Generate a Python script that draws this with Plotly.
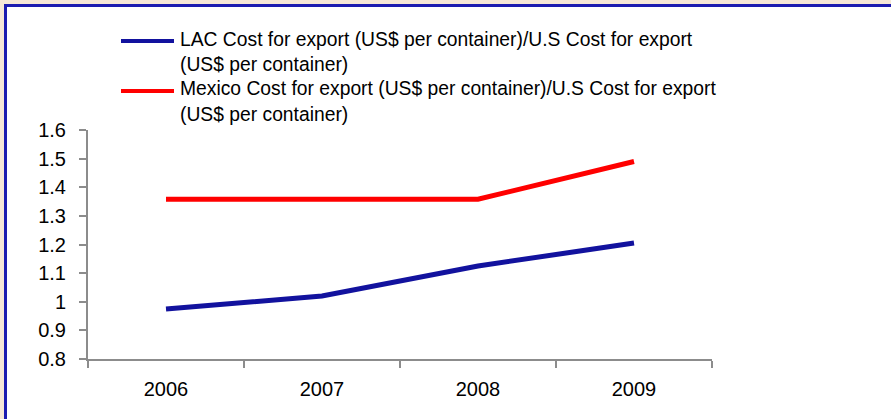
import plotly.graph_objects as go

# Export cost ratios relative to the U.S.
years = ["2006", "2007", "2008", "2009"]
lac_ratio = [0.975, 1.02, 1.125, 1.205]
mexico_ratio = [1.358, 1.358, 1.358, 1.49]
series_names = [
    "LAC Cost for export (US$ per container)/U.S Cost for export<br>(US$ per container)",
    "Mexico Cost for export (US$ per container)/U.S Cost for export<br>(US$ per container)",
]
series_colors = ["#12129e", "#ff0000"]
y_ticks = [0.8, 0.9, 1.0, 1.1, 1.2, 1.3, 1.4, 1.5, 1.6]

W, H = 891, 419
ML, MR, MT, MB = 88, 179, 130, 60
PW, PH = W - ML - MR, H - MT - MB


def px_x(p):
    return (p - ML) / PW


def px_y(p):
    return 1 - (p - MT) / PH


family = "Liberation Sans, Arial, sans-serif"
tick_font = dict(family=family, size=20, color="#000000")
legend_font = dict(family=family, size=19.3, color="#000000")
axis_grey = "#8c8c8c"

fig = go.Figure()
for vals, name, color in zip([lac_ratio, mexico_ratio], series_names, series_colors):
    fig.add_trace(go.Scatter(x=years, y=vals, mode="lines", name=name,
                             line=dict(color=color, width=5), showlegend=False))

# white frame with a blue border on the beige page
fig.add_shape(type="rect", xref="paper", yref="paper",
              x0=px_x(5.5), y0=px_y(440), x1=px_x(905), y1=px_y(5.5),
              fillcolor="#ffffff", line=dict(color="#1c1cb0", width=3), layer="below")

# legend: a line sample per series followed by its (wrapped) label
entry_top = [41, 91]
line_gap = 26
for top, name, color in zip(entry_top, series_names, series_colors):
    fig.add_shape(type="line", xref="paper", yref="paper",
                  x0=px_x(121), x1=px_x(174), y0=px_y(top), y1=px_y(top),
                  line=dict(color=color, width=4))
    for i, part in enumerate(name.split("<br>")):
        fig.add_annotation(xref="paper", yref="paper", x=px_x(178), y=px_y(top - 2 + i * line_gap),
                           xanchor="left", yanchor="middle", text=part, showarrow=False,
                           font=legend_font, align="left")

fig.update_layout(
    width=W, height=H,
    margin=dict(l=ML, r=MR, t=MT, b=MB),
    paper_bgcolor="#f6e8d7",
    plot_bgcolor="rgba(0,0,0,0)",
    font=tick_font,
    showlegend=False,
    xaxis=dict(type="category", range=[-0.5, 3.5], tickson="boundaries",
               showline=True, linecolor=axis_grey, linewidth=2,
               ticks="outside", ticklen=7, tickcolor=axis_grey, tickwidth=2,
               showgrid=False, zeroline=False, ticklabelstandoff=11),
    yaxis=dict(range=[0.8, 1.6], tickvals=y_ticks,
               ticktext=[f"{v:g}" for v in y_ticks],
               showline=True, linecolor=axis_grey, linewidth=2,
               ticks="outside", ticklen=7, tickcolor=axis_grey, tickwidth=2,
               showgrid=False, zeroline=False, ticklabelstandoff=9),
)

fig.write_html("out.html")
